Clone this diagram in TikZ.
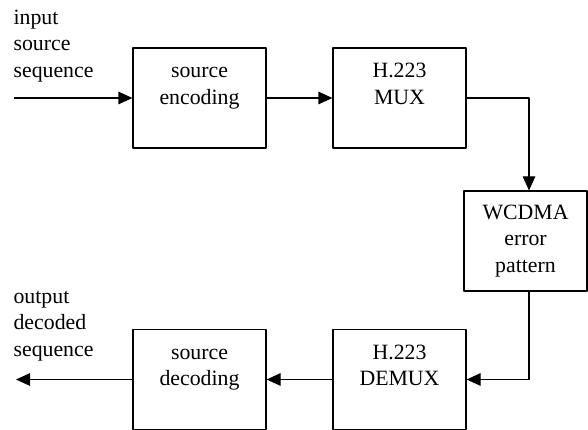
\documentclass[tikz,border=0pt]{standalone}
\usepackage{fontspec}
\setmainfont{Liberation Serif}
\usetikzlibrary{arrows.meta}
\begin{document}
\begin{tikzpicture}[x=1pt,y=-1pt,line join=round,>={Triangle[length=14pt,width=12.5pt]},line width=1.2pt]
	\tikzset{every node/.style={font=\fontsize{21.8}{26.5}\selectfont},
		blok/.style={draw,minimum width=133pt,minimum height=100pt,inner sep=0pt},
		inside/.style={anchor=north,align=center,inner sep=0pt,yshift=-11pt},
		side/.style={anchor=north west,align=left,inner sep=0pt}}
	\useasboundingbox (0,0) rectangle (588,430);
	% upper row
	\node[blok,label={[inside]north:\strut source\\encoding}] (enc) at (199.5,98) {};
	\node[blok,label={[inside]north:\strut H.223\\MUX}] (mux) at (399.5,98) {};
	% channel
	\node[blok,minimum width=123pt,align=center] (wcd) at (525.5,241) {WCDMA\\error\\pattern};
	% lower row
	\node[blok,label={[inside]north:\strut H.223\\DEMUX}] (dmx) at (399.5,379.5) {};
	\node[blok,label={[inside]north:\strut source\\decoding}] (dec) at (199.5,379.5) {};
	% side texts
	\node[side] (inlab) at (13,5) {\strut input\\source\\sequence};
	\node[side] (outlab) at (13,284) {\strut output\\decoded\\sequence};
	\coordinate (in) at (14,98);
	\coordinate (out) at (16,379.5);
	% connectors
	\draw[->] (in) -- (enc.west);
	\draw[->] (enc.east) -- (mux.west);
	\draw[->] (mux.east) -| ([xshift=3.5pt]wcd.north);
	\draw[->] ([xshift=3.5pt]wcd.south) |- (dmx.east);
	\draw[->] (dmx.west) -- (dec.east);
	\draw[->] (dec.west) -- (out);
\end{tikzpicture}
\end{document}
